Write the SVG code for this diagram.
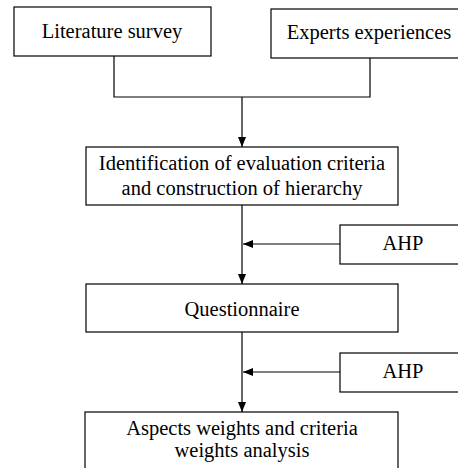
<svg xmlns="http://www.w3.org/2000/svg" width="458" height="468" viewBox="0 0 458 468">
<style>
.box{fill:#fff;stroke:#000;stroke-width:1.2}
.t{font-family:"Liberation Serif","Times New Roman",serif;font-size:20.5px;fill:#000;text-anchor:middle}
.c{fill:none;stroke:#000;stroke-width:1.2}
</style>
<defs>
<marker id="ah" viewBox="0 0 10 8" refX="10" refY="4" markerWidth="10" markerHeight="8" markerUnits="userSpaceOnUse" orient="auto">
<path d="M0,0 L10,4 L0,8 Z" fill="#000"/>
</marker>
</defs>
<rect width="458" height="468" fill="#fff"/>
<g id="connectors">
<polyline class="c" points="114,56 114,97 370,97 370,58"/>
<line class="c" x1="242" y1="97" x2="242" y2="147" marker-end="url(#ah)"/>
<line class="c" x1="242" y1="205" x2="242" y2="284" marker-end="url(#ah)"/>
<line class="c" x1="340" y1="244" x2="243" y2="244" marker-end="url(#ah)"/>
<line class="c" x1="242" y1="332" x2="242" y2="412" marker-end="url(#ah)"/>
<line class="c" x1="340" y1="372" x2="243" y2="372" marker-end="url(#ah)"/>
</g>
<g id="literature">
<rect class="box" x="14" y="7" width="197" height="49"/>
<text class="t" x="112" y="38">Literature survey</text>
</g>
<g id="experts">
<rect class="box" x="271" y="9" width="192" height="49"/>
<text class="t" x="369" y="39">Experts experiences</text>
</g>
<g id="identification">
<rect class="box" x="86" y="147" width="312" height="58"/>
<text class="t" x="242" y="170">Identification of evaluation criteria</text>
<text class="t" x="242" y="195">and construction of hierarchy</text>
</g>
<g id="ahp1">
<rect class="box" x="340" y="225" width="120" height="39"/>
<text class="t" x="403" y="250">AHP</text>
</g>
<g id="questionnaire">
<rect class="box" x="86" y="284" width="312" height="48"/>
<text class="t" x="242" y="316">Questionnaire</text>
</g>
<g id="ahp2">
<rect class="box" x="340" y="353" width="120" height="39"/>
<text class="t" x="403" y="378">AHP</text>
</g>
<g id="aspects">
<rect class="box" x="85" y="412" width="313" height="62"/>
<text class="t" x="242" y="435">Aspects weights and criteria</text>
<text class="t" x="242" y="457">weights analysis</text>
</g>
</svg>
